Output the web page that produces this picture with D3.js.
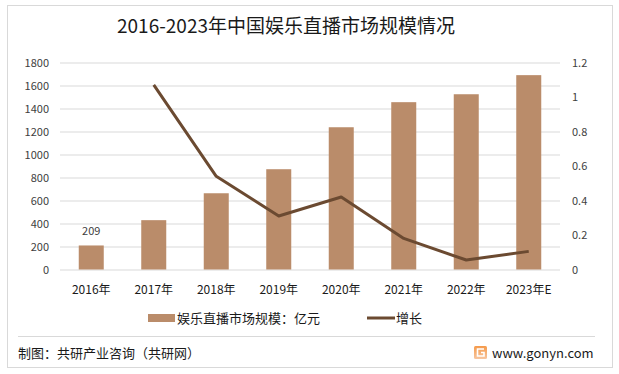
<!DOCTYPE html>
<html>
<head>
<meta charset="utf-8">
<script src="https://cdn.jsdelivr.net/npm/d3@7"></script>
<style>
body { margin: 0; background: #fff; }
text { font-family: "Microsoft YaHei", "Noto Sans CJK SC", sans-serif; }
</style>
</head>
<body>
<div id="chart"></div>
<script>
// chart data
var years = ['2016年', '2017年', '2018年', '2019年', '2020年', '2021年', '2022年', '2023年E'];
var scale = [209, 429, 663, 872, 1237, 1455, 1524, 1690];   // 亿元
var growth = [null, 1.07, 0.54, 0.31, 0.42, 0.18, 0.055, 0.105];
var leftTicks = [0, 200, 400, 600, 800, 1000, 1200, 1400, 1600, 1800];
var rightTicks = [0, 0.2, 0.4, 0.6, 0.8, 1, 1.2];

var W = 619, H = 374;
var margin = {top: 62.5, bottom: 104.5, left: 60, right: 59};
var width = W - margin.left - margin.right;
var height = H - margin.top - margin.bottom;

var barColor = '#BA8C6A';
var lineColor = '#6B4A31';
var fontFam = '"Microsoft YaHei", "Noto Sans CJK SC", sans-serif';

var svg = d3.select('#chart').append('svg')
    .attr('width', W)
    .attr('height', H);

// outer frame
svg.append('rect')
    .attr('x', 7.5).attr('y', 5.5)
    .attr('width', 605).attr('height', 362)
    .attr('fill', 'none')
    .attr('stroke', '#D9D9D9');

// title
svg.append('text')
    .attr('x', 286).attr('y', 33)
    .attr('text-anchor', 'middle')
    .attr('font-size', 19)
    .attr('fill', '#1a1a1a')
    .text('2016-2023年中国娱乐直播市场规模情况');

var g = svg.append('g').attr('transform', 'translate(' + margin.left + ',' + margin.top + ')');

var x = d3.scaleBand().domain(years).range([0, width]).paddingInner(0.6).paddingOuter(0.3);
var yL = d3.scaleLinear().domain([0, 1800]).range([height, 0]);
var yR = d3.scaleLinear().domain([0, 1.2]).range([height, 0]);

// gridlines
g.append('g')
    .selectAll('line')
    .data(leftTicks)
    .enter()
    .append('line')
    .attr('x1', 0).attr('x2', width)
    .attr('y1', function(d){ return Math.round(yL(d)) + 0.5; })
    .attr('y2', function(d){ return Math.round(yL(d)) + 0.5; })
    .attr('stroke', '#D9D9D9')
    .attr('stroke-width', 1);

// left axis
var axL = g.append('g').call(d3.axisLeft(yL).tickValues(leftTicks).tickSize(0).tickPadding(11).tickFormat(d3.format('d')));
axL.select('.domain').remove();
axL.selectAll('text').attr('font-size', 11).attr('fill', '#404040').style('font-family', fontFam);

// right axis
var axR = g.append('g').attr('transform', 'translate(' + width + ',0)')
    .call(d3.axisRight(yR).tickValues(rightTicks).tickSize(0).tickPadding(12).tickFormat(d3.format('')));
axR.select('.domain').remove();
axR.selectAll('text').attr('font-size', 11).attr('fill', '#404040').style('font-family', fontFam);

// x axis labels
var axX = g.append('g').attr('transform', 'translate(0,' + height + ')')
    .call(d3.axisBottom(x).tickSize(0).tickPadding(16));
axX.select('.domain').remove();
axX.selectAll('text').attr('font-size', 12).attr('fill', '#1a1a1a').style('font-family', fontFam);

// bars
g.append('g')
    .selectAll('rect')
    .data(scale)
    .enter()
    .append('rect')
    .attr('x', function(d, i){ return x(years[i]); })
    .attr('y', function(d){ return yL(d); })
    .attr('width', x.bandwidth())
    .attr('height', function(d){ return height - yL(d); })
    .attr('fill', barColor);

// data label on first bar
g.append('text')
    .attr('x', x(years[0]) + x.bandwidth() / 2)
    .attr('y', yL(scale[0]) - 10)
    .attr('text-anchor', 'middle')
    .attr('font-size', 11)
    .attr('fill', '#404040')
    .text(scale[0]);

// growth line
var line = d3.line()
    .defined(function(d){ return d != null; })
    .x(function(d, i){ return x(years[i]) + x.bandwidth() / 2; })
    .y(function(d){ return yR(d); });

g.append('path')
    .datum(growth)
    .attr('d', line)
    .attr('fill', 'none')
    .attr('stroke', lineColor)
    .attr('stroke-width', 3)
    .attr('stroke-linejoin', 'round');

// legend
var leg = svg.append('g').attr('transform', 'translate(0,318)');
leg.append('rect').attr('x', 148).attr('y', -4).attr('width', 27).attr('height', 8).attr('fill', barColor);
leg.append('text').attr('x', 177).attr('y', 5).attr('font-size', 13).attr('fill', '#1a1a1a').text('娱乐直播市场规模：亿元');
leg.append('line').attr('x1', 367).attr('x2', 395).attr('y1', 0).attr('y2', 0).attr('stroke', lineColor).attr('stroke-width', 3);
leg.append('text').attr('x', 396).attr('y', 5).attr('font-size', 13).attr('fill', '#1a1a1a').text('增长');

// separator
svg.append('line')
    .attr('x1', 18).attr('x2', 595)
    .attr('y1', 336.5).attr('y2', 336.5)
    .attr('stroke', '#D9D9D9');

// footer
svg.append('text')
    .attr('x', 18).attr('y', 358)
    .attr('font-size', 13)
    .attr('fill', '#1a1a1a')
    .text('制图：共研产业咨询（共研网）');

var grad = svg.append('defs').append('linearGradient').attr('id', 'logoGrad')
    .attr('x1', 0).attr('y1', 0).attr('x2', 0).attr('y2', 1);
grad.append('stop').attr('offset', '0%').attr('stop-color', '#F59A4A');
grad.append('stop').attr('offset', '100%').attr('stop-color', '#F7C6A0');
svg.append('rect')
    .attr('x', 474).attr('y', 346).attr('width', 13).attr('height', 13)
    .attr('rx', 1.5)
    .attr('fill', 'url(#logoGrad)');
svg.append('path')
    .attr('d', 'M484 349 H477.5 V356 H484 V352.5 H481')
    .attr('fill', 'none')
    .attr('stroke', '#fff')
    .attr('stroke-width', 1.6);

svg.append('text')
    .attr('x', 492).attr('y', 358)
    .attr('font-size', 13)
    .attr('fill', '#1a1a1a')
    .text('www.gonyn.com');
</script>
</body>
</html>
